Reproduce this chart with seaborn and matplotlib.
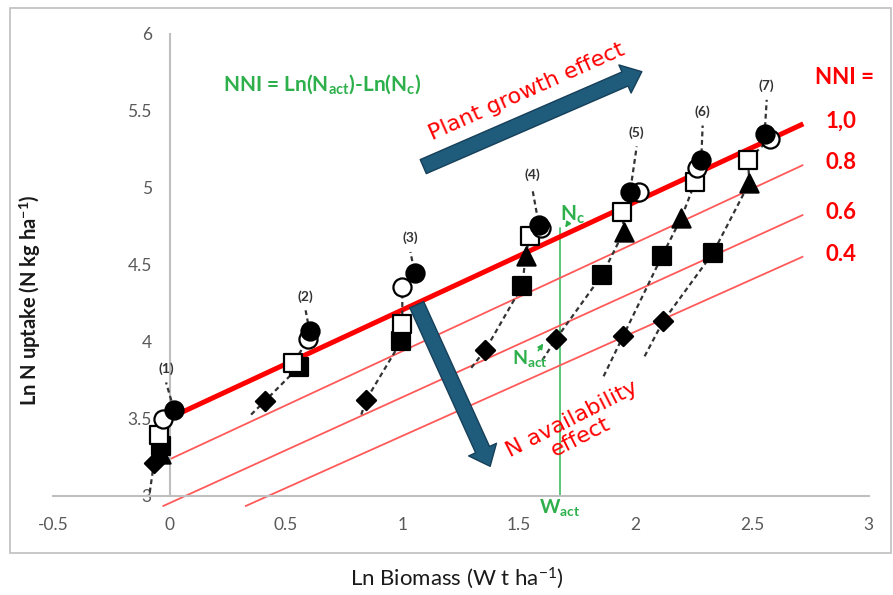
import matplotlib
matplotlib.use("Agg")
import matplotlib.pyplot as plt
from matplotlib.patches import FancyArrowPatch, Rectangle
import numpy as np
import pandas as pd
import seaborn as sns

sns.set_style("white")
plt.rcParams.update({
    "font.family": ["Lato", "DejaVu Sans"],
    "mathtext.fontset": "custom",
    "mathtext.rm": "Lato",
    "mathtext.bf": "Lato:bold",
    "mathtext.it": "Lato:italic",
})

# sampling dates (1)..(7)
dates = ["(1)", "(2)", "(3)", "(4)", "(5)", "(6)", "(7)"]

# Ln biomass / Ln N uptake per treatment and date (nan = not visible)
circle_open_x = [-0.027, 0.595, 0.999, 1.595, 2.017, 2.263, 2.575]
circle_open_y = [3.498, 4.017, 4.355, 4.738, 4.976, 5.128, 5.316]
circle_fill_x = [0.020, 0.601, 1.052, 1.585, 1.977, 2.282, 2.554]
circle_fill_y = [3.554, 4.067, 4.446, 4.760, 4.976, 5.182, 5.351]
square_open_x = [-0.045, 0.532, 0.999, 1.545, 1.943, 2.257, 2.482]
square_open_y = [3.396, 3.862, 4.117, 4.684, 4.846, 5.041, 5.182]
square_fill_x = [-0.035, 0.555, 0.994, 1.514, 1.857, 2.114, 2.332]
square_fill_y = [3.320, 3.836, 4.002, 4.364, 4.435, 4.558, 4.576]
triangle_x = [-0.035, np.nan, np.nan, 1.528, 1.950, 2.196, 2.489]
triangle_y = [3.270, np.nan, np.nan, 4.554, 4.716, 4.803, 5.034]
diamond_x = [-0.067, 0.408, 0.844, 1.356, 1.659, 1.946, 2.118]
diamond_y = [3.212, 3.612, 3.623, 3.948, 4.018, 4.034, 4.132]

# dashed guide per date: lower end and "(n)" label position
guide_low_x = [-0.085, 0.350, 0.823, 1.295, 1.600, 1.863, 2.039]
guide_low_y = [3.020, 3.526, 3.526, 3.830, 3.880, 3.775, 3.905]
date_label_x = [-0.015, 0.584, 1.034, 1.557, 2.005, 2.288, 2.563]
date_label_y = [3.825, 4.294, 4.673, 5.084, 5.359, 5.495, 5.662]

# NNI iso-lines
nni_labels = ["1,0", "0.8", "0.6", "0.4"]
nni_x_start = [-0.02, -0.03, -0.03, 0.324]
nni_y_start = [3.490, 3.214, 2.930, 2.930]
nni_x_end = [2.72, 2.72, 2.72, 2.72]
nni_y_end = [5.416, 5.149, 4.825, 4.554]

# actual biomass (W_act) marker line
w_act = 1.676
n_c_top = 4.74

treatments = {
    "diamond": (diamond_x, diamond_y),
    "square_fill": (square_fill_x, square_fill_y),
    "triangle": (triangle_x, triangle_y),
    "square_open": (square_open_x, square_open_y),
    "circle_open": (circle_open_x, circle_open_y),
    "circle_fill": (circle_fill_x, circle_fill_y),
}
rows = []
for name, (xs, ys) in treatments.items():
    for d, x, y in zip(dates, xs, ys):
        rows.append({"date": d, "treatment": name, "lnW": x, "lnN": y})
df = pd.DataFrame(rows).dropna()

STYLE = {
    "diamond": ("D", "black", 95),
    "square_fill": ("s", "black", 150),
    "triangle": ("^", "black", 170),
    "square_open": ("s", "white", 150),
    "circle_open": ("o", "white", 170),
    "circle_fill": ("o", "black", 170),
}

RED = "#FF0000"
GREEN = "#2DB04B"
BLUE = "#1F5B7A"
GRID = "#BFBFBF"

fig = plt.figure(figsize=(8.93, 5.95), dpi=100)
ax = fig.add_axes([0.0594, 0.1413, 0.9132, 0.8016])
ax.set_xlim(-0.5, 3.0)
ax.set_ylim(2.9, 6.0)

# NNI lines
for i, lab in enumerate(nni_labels):
    ax.plot([nni_x_start[i], nni_x_end[i]], [nni_y_start[i], nni_y_end[i]],
            color=RED if i == 0 else "#FF5A5A", lw=3.6 if i == 0 else 1.3,
            zorder=2, clip_on=False, solid_capstyle="butt")
    ax.text(2.88, nni_y_end[i] + 0.015, lab, color=RED, fontsize=16,
            fontweight="bold", ha="center", va="center")
ax.text(2.895, 5.714, "NNI =", color=RED, fontsize=16, fontweight="bold",
        ha="center", va="center")

# dashed guides through each date's points
for i, d in enumerate(dates):
    sub = df[df["date"] == d].sort_values("lnN")
    px = [guide_low_x[i]] + list(sub["lnW"]) + [date_label_x[i]]
    py = [guide_low_y[i]] + list(sub["lnN"]) + [date_label_y[i] - 0.09]
    ax.plot(px, py, color="#333333", lw=1.6, ls=(0, (2.2, 1.6)), zorder=3)
    ax.text(date_label_x[i], date_label_y[i], d, fontsize=10, fontweight="bold",
            color="#333333", ha="center", va="center")

# points
for name, (mk, fc, s) in STYLE.items():
    sns.scatterplot(data=df[df["treatment"] == name], x="lnW", y="lnN", marker=mk,
                    s=s, color=fc, edgecolor="black", linewidth=1.6, ax=ax,
                    zorder=4, legend=False, clip_on=False)

# W_act line and labels
ax.plot([w_act, w_act], [3.0, n_c_top], color="#4CC36E", lw=1.3, zorder=1)
ax.text(w_act, 2.92, r"W$_\mathbf{act}$", color=GREEN, fontsize=14,
        fontweight="bold", ha="center", va="center")
ax.text(1.728, 4.825, r"N$_\mathbf{c}$", color=GREEN, fontsize=15,
        fontweight="bold", ha="center", va="center")
ax.annotate("", xy=(1.692, 4.727), xytext=(1.711, 4.771),
            arrowprops=dict(arrowstyle="-|>,head_length=0.3,head_width=0.15",
                            color=GREEN, lw=1.2))
ax.text(1.547, 3.89, r"N$_\mathbf{act}$", color=GREEN, fontsize=14,
        fontweight="bold", ha="center", va="center")
ax.annotate("", xy=(1.611, 4.003), xytext=(1.576, 3.927),
            arrowprops=dict(arrowstyle="-|>,head_length=0.3,head_width=0.15",
                            color=GREEN, lw=1.2))
ax.text(0.655, 5.675, r"NNI = Ln(N$_\mathbf{act}$)-Ln(N$_\mathbf{c}$)",
        color=GREEN, fontsize=15, fontweight="bold", ha="center", va="center")

# effect arrows
for (x0, y0), (x1, y1) in [((1.089, 5.138), (2.027, 5.755)),
                           ((1.061, 4.240), (1.376, 3.190))]:
    arr = FancyArrowPatch((x0, y0), (x1, y1), shrinkA=0, shrinkB=0,
                          arrowstyle="simple,head_length=1.2,head_width=2.0,tail_width=1.0",
                          mutation_scale=11, facecolor=BLUE, edgecolor="#16405A",
                          lw=1, zorder=5)
    ax.add_patch(arr)
ax.text(1.534, 5.623, "Plant growth effect", color=RED, fontsize=16,
        rotation=24, ha="center", va="center", family="DejaVu Sans")
ax.text(1.745, 3.44, "N availability\neffect", color=RED, fontsize=16,
        rotation=27, ha="center", va="center", multialignment="center",
        family="DejaVu Sans", linespacing=1.0)

# Excel-like axes
for side in ["top", "right"]:
    ax.spines[side].set_visible(False)
ax.spines["left"].set_position(("data", 0))
ax.spines["bottom"].set_position(("data", 3))
ax.spines["left"].set_bounds(3, 6)
ax.spines["bottom"].set_bounds(-0.5, 3)
for side in ["left", "bottom"]:
    ax.spines[side].set_color(GRID)
    ax.spines[side].set_linewidth(1.5)
ax.set_xticks(np.arange(-0.5, 3.01, 0.5))
ax.set_xticklabels(["-0.5", "0", "0.5", "1", "1.5", "2", "2.5", "3"])
ax.set_yticks(np.arange(3, 6.01, 0.5))
ax.set_yticklabels(["3", "3.5", "4", "4.5", "5", "5.5", "6"])
ax.tick_params(axis="x", direction="out", length=4.3, width=1.2, color=GRID,
               pad=11, labelsize=12.5, labelcolor="#595959")
ax.tick_params(axis="y", direction="out", length=5.8, width=1.2, color=GRID,
               pad=7, labelsize=12.5, labelcolor="#595959")
ax.set_xlabel("")
ax.set_ylabel("")

fig.text(0.034, 0.496, r"Ln N uptake (N kg ha$^\mathbf{-1}$)", rotation=90,
         fontsize=14.5, fontweight="bold", color="#1a1a1a", ha="center", va="center")
fig.text(0.512, 0.0286, r"Ln Biomass (W t ha$^\mathrm{-1}$)", fontsize=16,
         color="#1a1a1a", ha="center", va="center")

fig.patches.append(Rectangle((0.011, 0.0706), 0.987, 0.916, transform=fig.transFigure,
                             fill=False, edgecolor=GRID, lw=1.2))

fig.savefig("out.png", dpi=100)
